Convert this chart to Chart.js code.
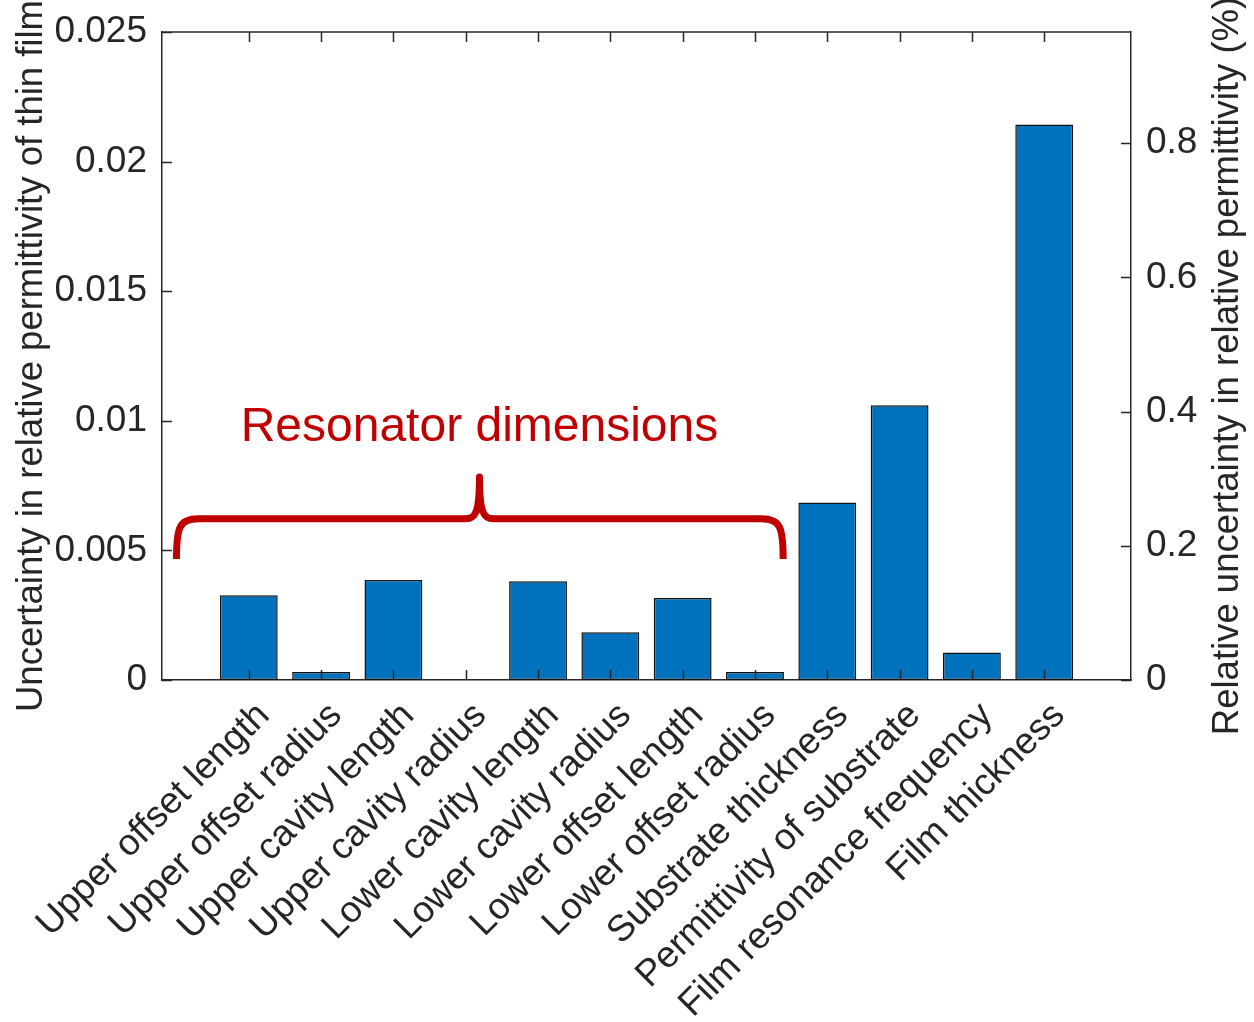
<!DOCTYPE html>
<html>
<head>
<meta charset="utf-8">
<script src="https://cdn.jsdelivr.net/npm/chart.js@4.4.1/dist/chart.umd.min.js"></script>
<style>
  html, body { margin: 0; padding: 0; background: #ffffff; }
  #wrap { width: 1254px; height: 1022px; }
</style>
</head>
<body>
<div id="wrap"><canvas id="chart" width="1254" height="1022"></canvas></div>
<script>
// Uncertainty contributions to the thin-film relative permittivity
const categories = [
  'Upper offset length', 'Upper offset radius', 'Upper cavity length', 'Upper cavity radius',
  'Lower cavity length', 'Lower cavity radius', 'Lower offset length', 'Lower offset radius',
  'Substrate thickness', 'Permittivity of substrate', 'Film resonance frequency', 'Film thickness'
];
const uncertainty = [
  0.00327, 0.00031, 0.00386, 0.000005,
  0.00381, 0.00184, 0.00316, 0.00031,
  0.00685, 0.0106, 0.00106, 0.02143
];
const leftTickLabels = ['0', '0.005', '0.01', '0.015', '0.02', '0.025'];
const rightTickLabels = ['0', '0.2', '0.4', '0.6', '0.8'];

// Axis limits
const leftMax = 0.025;
const rightMax = 0.9657;       // same span expressed in percent
const xMin = -1.2, xMax = 12.2;

// Bracket grouping the resonator-dimension terms (index / value coordinates)
const groupLabel = 'Resonator dimensions';
const bracketFrom = -1.0, bracketTo = 7.39, bracketMid = 3.19;
const bracketTip = 0.00467, bracketBar = 0.00622, bracketPeak = 0.00783;
const groupLabelY = 0.00922;

const axisColor = '#262626';
const barColor = '#0072BD';
const accent = '#C00000';
const fontFamily = "'Liberation Sans', Arial, Helvetica, sans-serif";
const tickFont = 37;
const titleFont = 36.5;

const frameAndNotes = {
  id: 'frameAndNotes',
  afterDatasetsDraw(chart) {
    const { ctx, chartArea: a, scales: { x, y, y1 } } = chart;
    const tick = 10;
    ctx.save();
    ctx.strokeStyle = axisColor;
    ctx.lineWidth = 1.5;
    ctx.beginPath();
    // top edge of the box
    ctx.moveTo(a.left, a.top);
    ctx.lineTo(a.right, a.top);
    // inward category ticks, bottom and top
    categories.forEach((_, i) => {
      const px = Math.round(x.getPixelForValue(i)) + 0.5;
      ctx.moveTo(px, a.bottom); ctx.lineTo(px, a.bottom - tick);
      ctx.moveTo(px, a.top); ctx.lineTo(px, a.top + tick);
    });
    // inward value ticks on both sides
    y.ticks.forEach(t => {
      const py = Math.round(y.getPixelForValue(t.value)) + 0.5;
      ctx.moveTo(a.left, py); ctx.lineTo(a.left + tick, py);
    });
    y1.ticks.forEach(t => {
      const py = Math.round(y1.getPixelForValue(t.value)) + 0.5;
      ctx.moveTo(a.right, py); ctx.lineTo(a.right - tick, py);
    });
    ctx.stroke();

    // curly bracket over the resonator terms
    const L = x.getPixelForValue(bracketFrom);
    const R = x.getPixelForValue(bracketTo);
    const C = x.getPixelForValue(bracketMid);
    const yTip = y.getPixelForValue(bracketTip);
    const yBar = y.getPixelForValue(bracketBar);
    const yPeak = y.getPixelForValue(bracketPeak);
    ctx.strokeStyle = accent;
    ctx.lineWidth = 7;
    ctx.lineJoin = 'round';
    ctx.beginPath();
    ctx.moveTo(L, yTip);
    ctx.bezierCurveTo(L, yBar + 8, L + 3, yBar, L + 22, yBar);
    ctx.lineTo(C - 14, yBar);
    ctx.bezierCurveTo(C - 4, yBar, C, yBar - 6, C, yPeak);
    ctx.bezierCurveTo(C, yBar - 6, C + 4, yBar, C + 14, yBar);
    ctx.lineTo(R - 22, yBar);
    ctx.bezierCurveTo(R - 3, yBar, R, yBar + 8, R, yTip);
    ctx.stroke();

    ctx.fillStyle = accent;
    ctx.font = '48px ' + fontFamily;
    ctx.textAlign = 'center';
    ctx.textBaseline = 'alphabetic';
    ctx.fillText(groupLabel, C, y.getPixelForValue(groupLabelY));

    // right-hand axis title, reading bottom to top
    ctx.fillStyle = axisColor;
    ctx.font = titleFont + 'px ' + fontFamily;
    ctx.textBaseline = 'middle';
    ctx.translate(1228, (a.top + a.bottom) / 2 + 10);
    ctx.rotate(-Math.PI / 2);
    ctx.fillText('Relative uncertainty in relative permittivity (%)', 0, 0);
    ctx.restore();
  }
};

Chart.defaults.font.family = fontFamily;
Chart.defaults.color = axisColor;

new Chart(document.getElementById('chart'), {
  type: 'bar',
  data: {
    datasets: [{
      data: categories.map((_, i) => ({ x: i, y: uncertainty[i] })),
      backgroundColor: barColor,
      borderColor: '#111111',
      borderWidth: 1.5,
      borderSkipped: false,
      barPercentage: 0.8,
      categoryPercentage: 1.0,
      xAxisID: 'x',
      yAxisID: 'y'
    }]
  },
  options: {
    responsive: false,
    animation: false,
    devicePixelRatio: 1,
    layout: { padding: { top: 32, left: 0, right: 0, bottom: 0 } },
    plugins: { legend: { display: false }, tooltip: { enabled: false } },
    scales: {
      x: {
        type: 'linear',
        position: 'bottom',
        min: xMin, max: xMax,
        offset: false,
        grid: { display: false, drawTicks: false },
        border: { display: true, color: axisColor, width: 1.5 },
        ticks: {
          stepSize: 1,
          includeBounds: false,
          autoSkip: false,
          minRotation: 45, maxRotation: 45,
          padding: 14,
          labelOffset: 15,
          font: { size: tickFont },
          color: axisColor,
          callback: v => (Number.isInteger(v) && v >= 0 && v < categories.length) ? categories[v] : ''
        },
        afterFit: s => { s.height = 342; s.paddingLeft = 0; s.paddingRight = 0; }
      },
      y: {
        type: 'linear',
        position: 'left',
        min: 0, max: leftMax,
        grid: { display: false, drawTicks: false },
        border: { display: true, color: axisColor, width: 1.5 },
        ticks: {
          stepSize: 0.005,
          includeBounds: false,
          padding: 15,
          font: { size: tickFont },
          color: axisColor,
          callback: (v, i) => leftTickLabels[i] ?? ''
        },
        title: {
          display: true,
          text: 'Uncertainty in relative permittivity of thin film',
          font: { size: titleFont },
          color: axisColor,
          padding: { top: 10, bottom: 0 }
        },
        afterFit: s => { s.width = 162; s.paddingTop = 0; s.paddingBottom = 0; }
      },
      y1: {
        type: 'linear',
        position: 'right',
        min: 0, max: rightMax,
        grid: { display: false, drawTicks: false },
        border: { display: true, color: axisColor, width: 1.5 },
        ticks: {
          stepSize: 0.2,
          includeBounds: false,
          padding: 15,
          font: { size: tickFont },
          color: axisColor,
          callback: (v, i) => rightTickLabels[i] ?? ''
        },
        afterFit: s => { s.width = 123; s.paddingTop = 0; s.paddingBottom = 0; }
      }
    }
  },
  plugins: [frameAndNotes]
});
</script>
</body>
</html>
